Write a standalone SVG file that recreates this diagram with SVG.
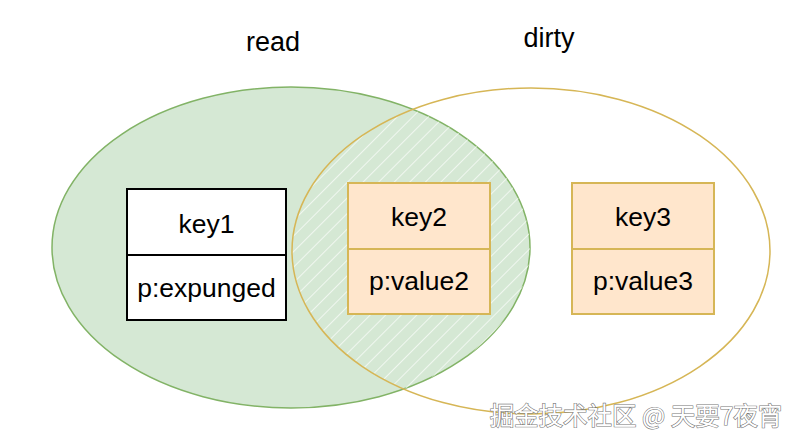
<svg xmlns="http://www.w3.org/2000/svg" width="800" height="446" viewBox="0 0 800 446">
<style>
.lbl{font-family:"Liberation Sans",Arial,sans-serif;font-size:26.5px;fill:#000;text-anchor:middle;dominant-baseline:central}
.title{font-family:"Liberation Sans",Arial,sans-serif;font-size:27px;fill:#000;text-anchor:middle;dominant-baseline:central}
.yel{fill:#ffe6cc;stroke:#d6b656;stroke-width:2}
.wht{fill:#fff;stroke:#000;stroke-width:2}
.wm{font-family:"Noto Sans CJK SC","Liberation Sans",sans-serif;font-size:24.5px;fill:#fff;stroke:#777;stroke-width:1.2;paint-order:stroke;text-anchor:middle;dominant-baseline:central}
</style>
<defs>
<pattern id="hatch" patternUnits="userSpaceOnUse" width="11" height="11" patternTransform="rotate(45)">
<line x1="0" y1="0" x2="0" y2="11" stroke="#fff" stroke-width="1.3"/>
</pattern>
<clipPath id="clipGreen"><ellipse cx="291" cy="247.5" rx="239" ry="160.5"/></clipPath>
</defs>
<rect width="800" height="446" fill="#fff"/>
<g id="read">
<ellipse cx="291" cy="247.5" rx="239" ry="160.5" fill="#d5e8d4" stroke="#82b366" stroke-width="1.5"/>
</g>
<g id="intersection" clip-path="url(#clipGreen)">
<ellipse cx="531" cy="251" rx="239" ry="163" fill="url(#hatch)"/>
</g>
<g id="dirty">
<ellipse cx="531" cy="251" rx="239" ry="163" fill="none" stroke="#d6b656" stroke-width="1.5"/>
</g>
<text class="title" x="273" y="42">read</text>
<text class="title" x="549" y="38">dirty</text>
<g id="key1">
<rect class="wht" x="127" y="189" width="159" height="131"/>
<line x1="127" y1="255" x2="286" y2="255" stroke="#000" stroke-width="2"/>
<text class="lbl" x="206.5" y="224">key1</text>
<text class="lbl" x="206.5" y="288">p:expunged</text>
</g>
<g id="key2">
<rect class="yel" x="348" y="183" width="142" height="131"/>
<line x1="348" y1="249" x2="490" y2="249" stroke="#d6b656" stroke-width="2"/>
<text class="lbl" x="419" y="217">key2</text>
<text class="lbl" x="419" y="281">p:value2</text>
</g>
<g id="key3">
<rect class="yel" x="572" y="183" width="142" height="131"/>
<line x1="572" y1="249" x2="714" y2="249" stroke="#d6b656" stroke-width="2"/>
<text class="lbl" x="643" y="217">key3</text>
<text class="lbl" x="643" y="281">p:value3</text>
</g>
<g id="connectors"></g>
<text class="wm" x="636" y="414">掘金技术社区 @ 天要7夜宵</text>
</svg>
